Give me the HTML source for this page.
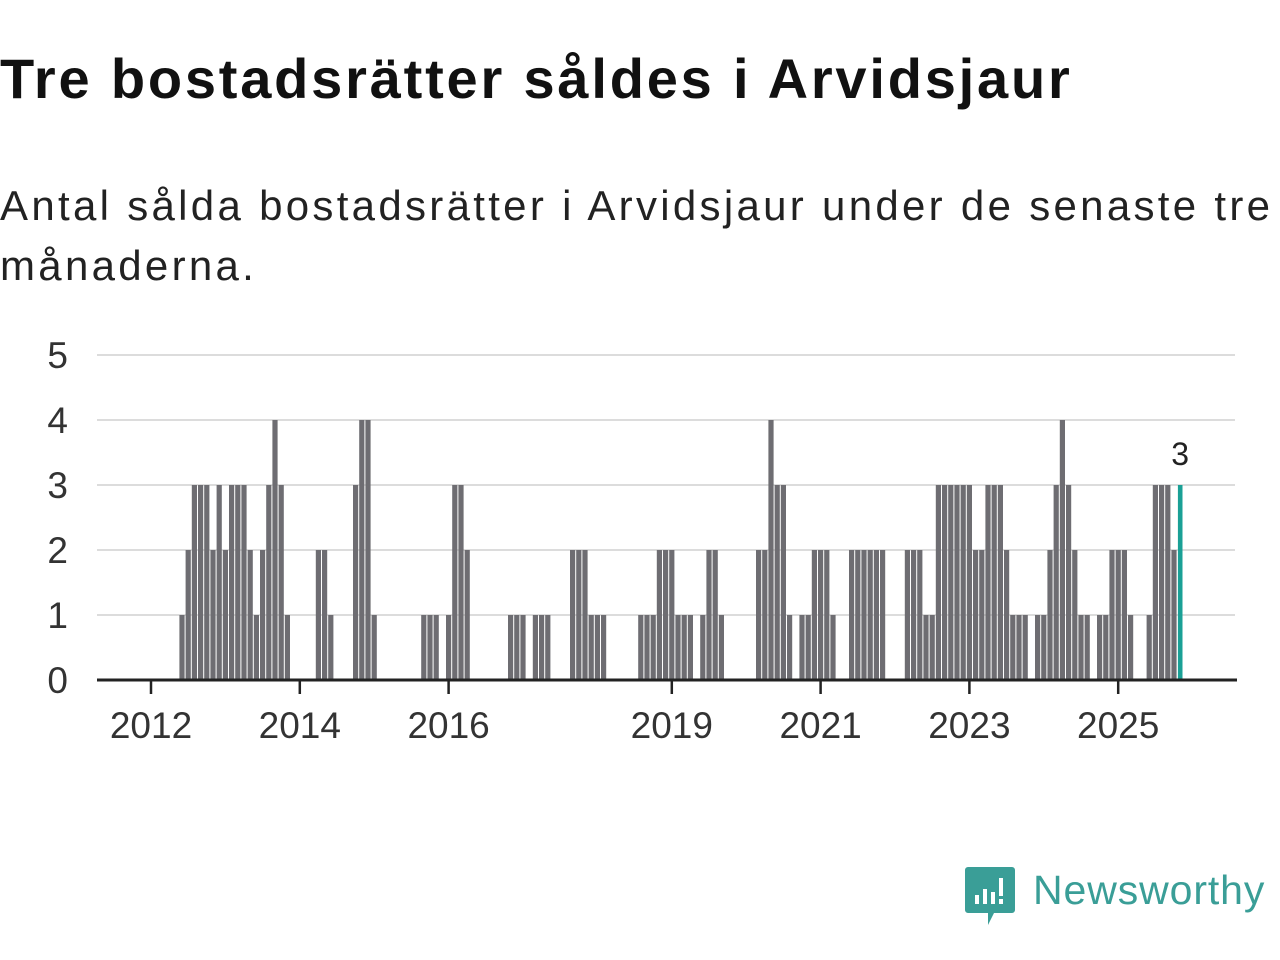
<!DOCTYPE html>
<html><head><meta charset="utf-8">
<style>
body{margin:0;width:1280px;height:960px;background:#fff;font-family:"Liberation Sans",sans-serif;overflow:hidden;position:relative}
#title{position:absolute;left:0;top:46px;font-size:56px;font-weight:bold;color:#111;white-space:nowrap;letter-spacing:2.8px}
#sub{position:absolute;left:0;top:176px;font-size:42px;color:#222;line-height:60px;width:1300px;letter-spacing:3.3px}
svg{position:absolute;left:0;top:0}
</style></head><body>
<div id="title">Tre bostadsrätter såldes i Arvidsjaur</div>
<div id="sub">Antal sålda bostadsrätter i Arvidsjaur under de senaste tre månaderna.</div>
<svg id="chart" width="1280" height="960"></svg>
<svg width="1280" height="960" style="pointer-events:none">
<path d="M968 867 h44 a3 3 0 0 1 3 3 v40 a3 3 0 0 1 -3 3 h-18 l-6 12 v-12 h-20 a3 3 0 0 1 -3 -3 v-40 a3 3 0 0 1 3 -3z" fill="#3a9e97"/>
<rect x="975" y="895" width="4" height="9" fill="#fff"/><rect x="983" y="889" width="4" height="15" fill="#fff"/>
<rect x="991" y="892" width="4" height="12" fill="#fff"/><rect x="999" y="878" width="4" height="18" fill="#fff"/><rect x="999" y="899" width="4" height="5" fill="#fff"/>
<text x="1033" y="904" font-family="Liberation Sans, sans-serif" font-size="41" letter-spacing="0.9" fill="#3a9e97">Newsworthy</text>
</svg>
<script>
const values=[0,0,0,0,0,1,2,3,3,3,2,3,2,3,3,3,2,1,2,3,4,3,1,0,0,0,0,2,2,1,0,0,0,3,4,4,1,
0,0,0,0,0,0,0,1,1,1,0,1,3,3,2,0,0,0,0,0,0,1,1,1,0,1,1,1,0,0,0,2,2,2,1,1,1,
0,0,0,0,0,1,1,1,2,2,2,1,1,1,0,1,2,2,1,0,0,0,0,0,2,2,4,3,3,1,0,1,1,2,2,2,1,0,0,2,2,2,2,2,2,
0,0,0,2,2,2,1,1,3,3,3,3,3,3,2,2,3,3,3,2,1,1,1,0,1,1,2,3,4,3,2,1,1,0,1,1,2,2,2,1,0,0,1,3,3,3,2,3];
const tickYears=["2012","2014","2016","2019","2021","2023","2025"];
const tickIndex=[0,24,48,84,108,132,156];
const yTicks=[0,1,2,3,4,5];
const NS="http://www.w3.org/2000/svg";
const svg=document.getElementById('chart');
const x=i=>151+i*6.2;
const y=v=>680-v*65;
function mk(t,a){const e=document.createElementNS(NS,t);for(const k in a)e.setAttribute(k,a[k]);svg.appendChild(e);return e;}
yTicks.forEach(v=>{
 if(v>0){const g=mk('line',{x1:97,x2:1235,y1:y(v),y2:y(v),stroke:'#dcdcdc','stroke-width':2});
 
 }
 const t=mk('text',{x:68,y:y(v)+13,'text-anchor':'end','font-size':37,fill:'#333','font-family':'Liberation Sans, sans-serif'});
 t.textContent=v;
 
 
});
values.forEach((v,i)=>{
 if(v<=0)return;
 const last=i===values.length-1;
 const r=mk('rect',{x:x(i)-(last?2.3:2.6),y:y(v),width:last?4.6:5.2,height:v*65,fill:last?'#1aa096':'#6e6d72'});
 
 
});
const ax=mk('line',{x1:97,x2:1237,y1:680,y2:680,stroke:'#222','stroke-width':3});


tickIndex.forEach((ix,k)=>{
 const tk=mk('line',{x1:x(ix),x2:x(ix),y1:680,y2:694,stroke:'#222','stroke-width':2.5});
 
 
 const t=mk('text',{x:x(ix),y:738,'text-anchor':'middle','font-size':37,fill:'#333','font-family':'Liberation Sans, sans-serif'});
 t.textContent=tickYears[k];
 
 
});
const li=values.length-1;
const lab=mk('text',{x:x(li),y:y(values[li])-20,'text-anchor':'middle','font-size':32,fill:'#222','font-family':'Liberation Sans, sans-serif'});
lab.textContent=values[li];


</script>
</body></html>
